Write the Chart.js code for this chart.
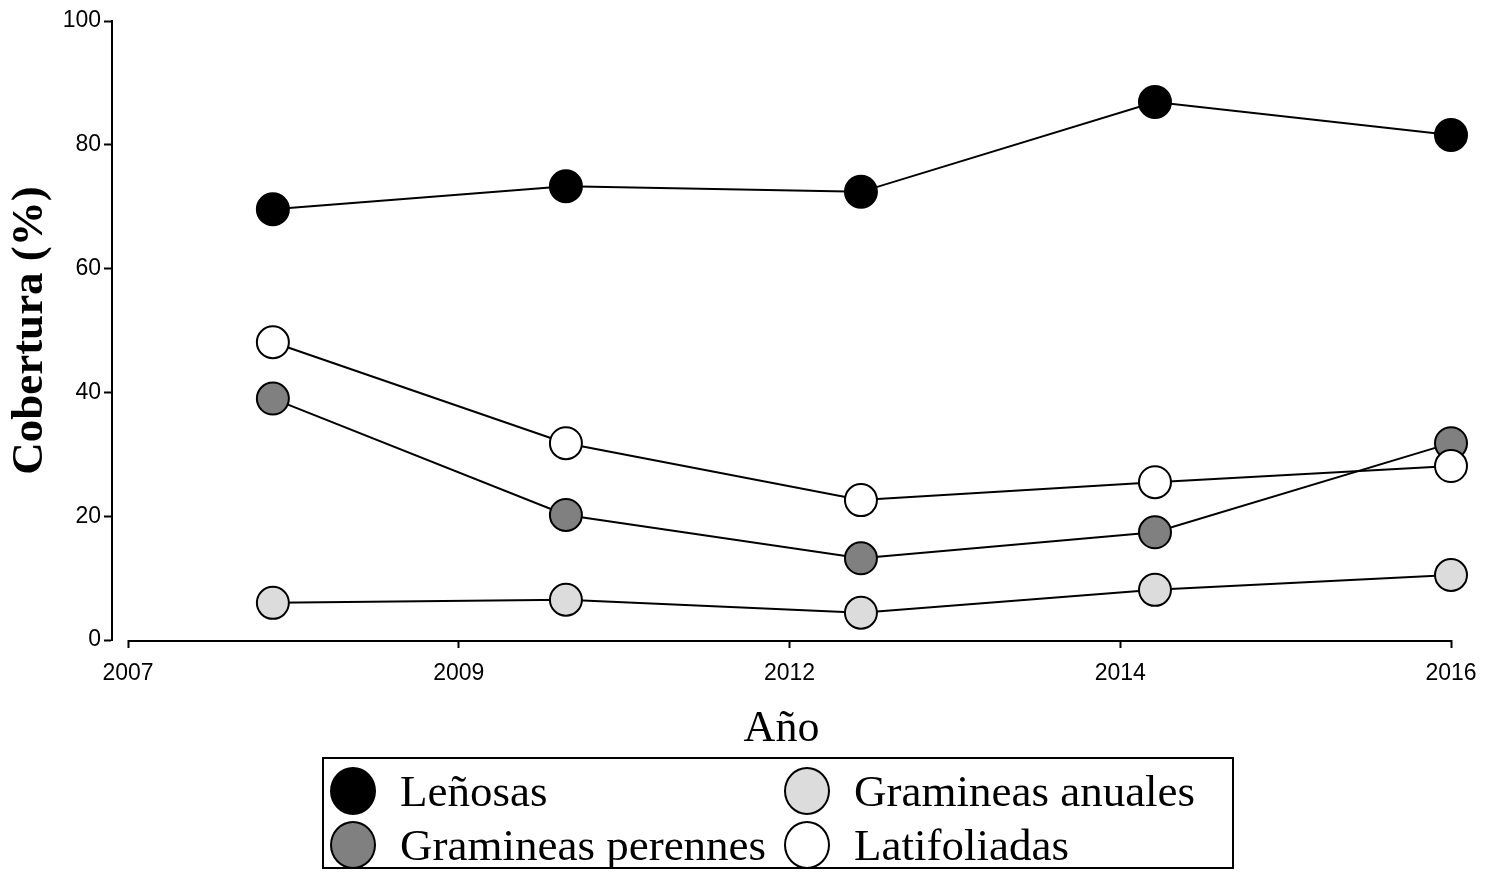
<!DOCTYPE html>
<html>
<head>
<meta charset="utf-8">
<script src="https://cdn.jsdelivr.net/npm/chart.js@4.4.1/dist/chart.umd.min.js"></script>
<style>
  html, body { margin: 0; padding: 0; background: #fff; }
  #wrap { position: relative; width: 1489px; height: 880px; }
  #legend { position: absolute; left: 322px; top: 757px; width: 908px; height: 108px;
            border: 2px solid #000; font-family: "Liberation Serif", "Times New Roman", serif;
            font-size: 45px; color: #000; }
  .item { position: absolute; display: flex; align-items: center; white-space: nowrap; }
  .dot { width: 42px; height: 44px; border: 2px solid #000; border-radius: 50%; margin-right: 24px; }
</style>
</head>
<body>
<div id="wrap">
  <canvas id="chart" width="1489" height="880"></canvas>
  <div id="legend"></div>
</div>
<script>
// x positions along the (equally spaced) year axis, 0 = 2007 tick, 4 = 2016 tick
const tickLabels = ["2007", "2009", "2012", "2014", "2016"];
const xPos = [0.438, 1.324, 2.216, 3.105, 4.0];

const lenosas = [69.6, 73.3, 72.4, 86.9, 81.6];
const perennes = [39.0, 20.2, 13.2, 17.4, 31.8];
const anuales = [6.0, 6.5, 4.4, 8.1, 10.5];
const latifoliadas = [48.1, 31.8, 22.6, 25.5, 28.1];

const series = [
  { label: "Leñosas", values: lenosas, fill: "#000000", order: 3 },
  { label: "Gramineas perennes", values: perennes, fill: "#808080", order: 2 },
  { label: "Gramineas anuales", values: anuales, fill: "#dcdcdc", order: 1 },
  { label: "Latifoliadas", values: latifoliadas, fill: "#ffffff", order: 0 }
];

const axisLine = {
  id: "axisLine",
  afterDraw(chart) {
    const { ctx, chartArea, scales } = chart;
    ctx.save();
    ctx.strokeStyle = "#000";
    ctx.lineWidth = 2;
    ctx.beginPath();
    ctx.moveTo(scales.x.getPixelForValue(0), chartArea.bottom + 1);
    ctx.lineTo(scales.x.getPixelForValue(4), chartArea.bottom + 1);
    ctx.stroke();
    ctx.restore();
  }
};

new Chart(document.getElementById("chart"), {
  type: "line",
  data: {
    datasets: series.map(s => ({
      label: s.label,
      data: s.values.map((v, i) => ({ x: xPos[i], y: v })),
      borderColor: "#000",
      borderWidth: 2,
      pointRadius: 16,
      pointBorderWidth: 2,
      pointBorderColor: "#000",
      pointBackgroundColor: s.fill,
      order: s.order,
      clip: false,
      tension: 0
    }))
  },
  options: {
    responsive: false,
    animation: false,
    layout: { padding: { top: 21, right: 38, bottom: 120, left: 0 } },
    plugins: { legend: { display: false }, tooltip: { enabled: false } },
    scales: {
      x: {
        type: "linear",
        min: -16 / 330.75,
        max: 4,
        afterBuildTicks: sc => { sc.ticks = tickLabels.map((_, i) => ({ value: i })); },
        afterFit: sc => { sc.height = 120; },
        ticks: {
          callback: (v) => tickLabels[v],
          color: "#000",
          font: { family: "Liberation Sans", size: 23 },
          padding: 12,
          maxRotation: 0,
          autoSkip: false
        },
        grid: { drawOnChartArea: false, tickLength: 8, tickColor: "#000", tickWidth: 2 },
        border: { display: false },
        title: {
          display: true,
          text: "Año",
          color: "#000",
          font: { family: "Liberation Serif", size: 44 },
          padding: { top: 0, bottom: 4 }
        }
      },
      y: {
        min: 0,
        max: 100,
        afterFit: sc => { sc.width = 112; },
        ticks: {
          stepSize: 20,
          color: "#000",
          font: { family: "Liberation Sans", size: 23 },
          padding: 3
        },
        grid: { drawOnChartArea: false, tickLength: 8, tickColor: "#000", tickWidth: 2 },
        border: { display: true, color: "#000", width: 2 },
        title: {
          display: true,
          text: "Cobertura (%)",
          color: "#000",
          font: { family: "Liberation Serif", size: 45, weight: "bold" },
          padding: { top: 3, bottom: 0 }
        }
      }
    }
  },
  plugins: [axisLine]
});

// legend box, two columns
const legendPos = [
  { s: series[0], left: 6, top: 6 },
  { s: series[2], left: 460, top: 6 },
  { s: series[1], left: 6, top: 60 },
  { s: series[3], left: 460, top: 60 }
];
const leg = document.getElementById("legend");
legendPos.forEach(p => {
  const el = document.createElement("div");
  el.className = "item";
  el.style.left = p.left + "px";
  el.style.top = p.top + "px";
  el.innerHTML = `<span class="dot" style="background:${p.s.fill}"></span><span>${p.s.label}</span>`;
  leg.appendChild(el);
});
</script>
</body>
</html>
